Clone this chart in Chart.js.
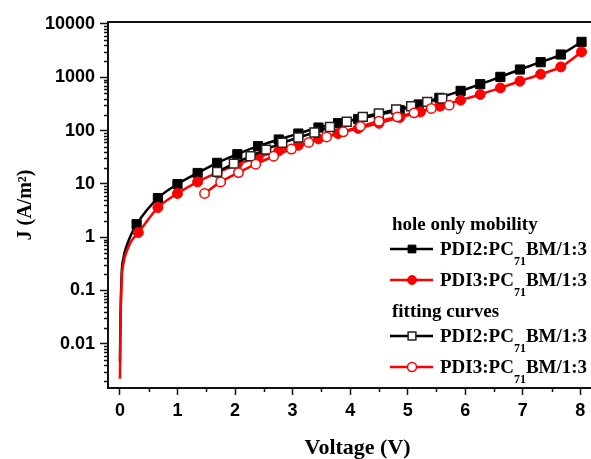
<!DOCTYPE html>
<html>
<head>
<meta charset="utf-8">
<script src="https://cdn.jsdelivr.net/npm/chart.js@4.4.1/dist/chart.umd.min.js"></script>
<style>
  html, body { margin: 0; padding: 0; overflow: hidden; background: #fff; }
  #wrap { width: 615px; height: 459px; }
</style>
</head>
<body>
<div id="wrap"><canvas id="c" width="615" height="459"></canvas></div>
<script>
/* J–V hole-only curves, log y axis. */

// measured data, PDI2:PC71BM/1:3
const holeV2 = [0, 0.01, 0.03, 0.06, 0.12, 0.2, 0.29, 0.66, 1.0, 1.35, 1.69, 2.04, 2.40, 2.76, 3.10, 3.45, 3.79, 4.14, 4.50, 4.86, 5.19, 5.55, 5.92, 6.26, 6.61, 6.95, 7.31, 7.66, 8.02];
const holeJ2 = [0.0046, 0.03, 0.2, 0.4, 0.7, 1.15, 1.75, 5.4, 9.9, 16, 24.8, 36, 51, 68, 88, 114, 138, 165, 200, 243, 309, 411, 556, 742, 1018, 1400, 1920, 2675, 4620];

// measured data, PDI3:PC71BM/1:3
const holeV3 = [0, 0.01, 0.03, 0.06, 0.12, 0.2, 0.32, 0.66, 1.0, 1.35, 1.69, 2.04, 2.40, 2.76, 3.10, 3.45, 3.79, 4.14, 4.50, 4.86, 5.22, 5.56, 5.92, 6.26, 6.61, 6.95, 7.31, 7.66, 8.02];
const holeJ3 = [0.0022, 0.02, 0.15, 0.32, 0.55, 0.85, 1.22, 3.6, 6.6, 10.9, 16.2, 23.4, 31.6, 41.7, 53, 70, 88, 110, 137, 176, 224, 287, 372, 476, 632, 845, 1143, 1567, 2997];

// fitting curves
const fitV2 = [1.69, 1.98, 2.27, 2.54, 2.82, 3.10, 3.38, 3.65, 3.94, 4.22, 4.50, 4.80, 5.06, 5.34, 5.60];
const fitJ2 = [16.8, 24, 33, 44, 59, 74, 92, 117, 146, 181, 209, 248, 287, 346, 400];
const fitV3 = [1.47, 1.75, 2.06, 2.36, 2.67, 2.98, 3.28, 3.59, 3.88, 4.18, 4.50, 4.82, 5.11, 5.41, 5.72];
const fitJ3 = [6.6, 10.9, 16.3, 23.4, 33, 45, 60, 76, 95, 120, 150, 181, 215, 260, 300];

const xTicks = [0, 1, 2, 3, 4, 5, 6, 7, 8];
const xTickLabels = ['0', '1', '2', '3', '4', '5', '6', '7', '8'];
const yTicks = [0.01, 0.1, 1, 10, 100, 1000, 10000];
const yTickLabels = ['0.01', '0.1', '1', '10', '100', '1000', '10000'];

const legendHeads = ['hole only mobility', 'fitting curves'];
const seriesNames = [['PDI2:PC', '71', 'BM/1:3'], ['PDI3:PC', '71', 'BM/1:3']];

const pts = (xs, ys) => xs.map((x, i) => ({ x, y: ys[i] }));
const joinName = (parts) => parts.join('');

// no markers on the dense start-up points
const markerSize = (r) => (ctx) => (ctx.parsed && ctx.parsed.x < 0.25 ? 0 : r);

const tickFont = { family: 'Liberation Sans', size: 18, weight: 'bold' };
const titleFont = { family: 'Liberation Serif', weight: 'bold' };

// minor ticks + top frame line
const frame = {
  id: 'frame',
  afterDraw(chart) {
    const { ctx, chartArea: a, scales: { x, y } } = chart;
    ctx.save();
    ctx.strokeStyle = '#111';
    ctx.lineWidth = 2;
    ctx.beginPath();
    ctx.moveTo(a.left - 1, a.top);
    ctx.lineTo(a.right, a.top);
    ctx.lineTo(a.right, a.bottom);
    ctx.stroke();
    ctx.lineWidth = 1.5;
    ctx.beginPath();
    for (let d = -3; d <= 4; d++) {
      for (let k = 2; k <= 9; k++) {
        const v = k * Math.pow(10, d);
        if (v < y.min || v > y.max) continue;
        const py = Math.round(y.getPixelForValue(v)) + 0.5;
        ctx.moveTo(a.left - 4, py);
        ctx.lineTo(a.left, py);
      }
    }
    for (let v = 0.5; v < x.max; v += 1) {
      const px = Math.round(x.getPixelForValue(v)) + 0.5;
      ctx.moveTo(px, a.bottom);
      ctx.lineTo(px, a.bottom + 4);
    }
    ctx.stroke();
    ctx.restore();
  },
};

// legend with the two group headings
const groupLegend = {
  id: 'groupLegend',
  afterDraw(chart) {
    const { ctx } = chart;
    const ds = chart.data.datasets;
    const rows = [
      { head: legendHeads[0], base: 230 },
      { ds: 0, name: seriesNames[0], base: 255 },
      { ds: 1, name: seriesNames[1], base: 286 },
      { head: legendHeads[1], base: 317 },
      { ds: 2, name: seriesNames[0], base: 342 },
      { ds: 3, name: seriesNames[1], base: 373 },
    ];
    ctx.save();
    ctx.textBaseline = 'alphabetic';
    ctx.textAlign = 'left';
    const main = 'bold 19px "Liberation Serif"';
    const sub = 'bold 12px "Liberation Serif"';
    rows.forEach((r) => {
      if (r.head) {
        ctx.font = main;
        ctx.fillStyle = '#000';
        ctx.fillText(r.head, 392, r.base);
        return;
      }
      const d = ds[r.ds];
      const ly = r.base - 6;
      ctx.strokeStyle = d.borderColor;
      ctx.lineWidth = 2.5;
      ctx.beginPath();
      ctx.moveTo(390, ly);
      ctx.lineTo(433, ly);
      ctx.stroke();
      ctx.fillStyle = d.pointBackgroundColor;
      ctx.strokeStyle = d.pointBorderColor;
      ctx.lineWidth = d.pointBorderWidth;
      Chart.helpers.drawPoint(ctx, {
        pointStyle: d.pointStyle,
        radius: d.pointStyle === 'rect' ? 5.5 : 4.5,
        rotation: 0,
        borderWidth: d.pointBorderWidth,
      }, 412, ly);
      ctx.fillStyle = '#000';
      let tx = 440;
      ctx.font = main;
      ctx.fillText(r.name[0], tx, r.base);
      tx += ctx.measureText(r.name[0]).width;
      ctx.font = sub;
      ctx.fillText(r.name[1], tx, r.base + 10);
      tx += ctx.measureText(r.name[1]).width;
      ctx.font = main;
      ctx.fillText(r.name[2], tx, r.base);
    });
    ctx.restore();
  },
};

new Chart(document.getElementById('c'), {
  type: 'line',
  data: {
    datasets: [
      {
        label: joinName(seriesNames[0]),
        data: pts(holeV2, holeJ2),
        borderColor: '#000',
        borderWidth: 2.5,
        pointStyle: 'rect',
        pointBackgroundColor: '#000',
        pointBorderColor: '#000',
        pointBorderWidth: 1,
        pointRadius: markerSize(6.5),
        cubicInterpolationMode: 'monotone',
        order: 3,
      },
      {
        label: joinName(seriesNames[1]),
        data: pts(holeV3, holeJ3),
        borderColor: '#ff0000',
        borderWidth: 2.5,
        pointStyle: 'circle',
        pointBackgroundColor: '#ff0000',
        pointBorderColor: '#ff0000',
        pointBorderWidth: 1,
        pointRadius: markerSize(5),
        cubicInterpolationMode: 'monotone',
        order: 2,
      },
      {
        label: joinName(seriesNames[0]) + ' fit',
        data: pts(fitV2, fitJ2),
        borderColor: '#000',
        borderWidth: 2.5,
        pointStyle: 'rect',
        pointBackgroundColor: '#fff',
        pointBorderColor: '#222',
        pointBorderWidth: 1.5,
        pointRadius: markerSize(6.3),
        cubicInterpolationMode: 'monotone',
        order: 1,
      },
      {
        label: joinName(seriesNames[1]) + ' fit',
        data: pts(fitV3, fitJ3),
        borderColor: '#ff0000',
        borderWidth: 2.5,
        pointStyle: 'circle',
        pointBackgroundColor: '#fff',
        pointBorderColor: '#ff0000',
        pointBorderWidth: 1.5,
        pointRadius: markerSize(4.7),
        cubicInterpolationMode: 'monotone',
        order: 0,
      },
    ],
  },
  options: {
    responsive: false,
    animation: false,
    events: [],
    layout: { padding: { left: 0, top: 22, right: 4, bottom: 0 } },
    plugins: { legend: { display: false }, tooltip: { enabled: false } },
    scales: {
      x: {
        type: 'linear',
        min: -0.207,
        max: 8.466,
        afterBuildTicks: (s) => { s.ticks = xTicks.map((v) => ({ value: v })); },
        afterFit: (s) => { s.height = 71; },
        ticks: {
          color: '#000', font: tickFont, padding: 5, maxRotation: 0, autoSkip: false,
          callback: (v, i) => xTickLabels[i],
        },
        grid: { drawOnChartArea: false, drawTicks: true, tickLength: 7, tickWidth: 1.5, tickColor: '#111' },
        border: { display: true, color: '#111', width: 2 },
        title: {
          display: true, text: 'Voltage (V)', color: '#000',
          font: { ...titleFont, size: 22, lineHeight: 1 }, padding: { top: 0, bottom: 0 },
        },
      },
      y: {
        type: 'logarithmic',
        min: 0.00148,
        max: 10900,
        afterBuildTicks: (s) => { s.ticks = yTicks.map((v) => ({ value: v })); },
        afterFit: (s) => { s.width = 108; },
        ticks: {
          color: '#000', font: tickFont, padding: 5, autoSkip: false,
          callback: (v, i) => yTickLabels[i],
        },
        grid: { drawOnChartArea: false, drawTicks: true, tickLength: 8, tickWidth: 1.5, tickColor: '#111' },
        border: { display: true, color: '#111', width: 2 },
        title: {
          display: true, text: 'J (A/m²)', color: '#000',
          font: { ...titleFont, size: 20, lineHeight: 1 }, padding: { top: 16, bottom: 0 },
        },
      },
    },
  },
  plugins: [frame, groupLegend],
});
</script>
</body>
</html>
